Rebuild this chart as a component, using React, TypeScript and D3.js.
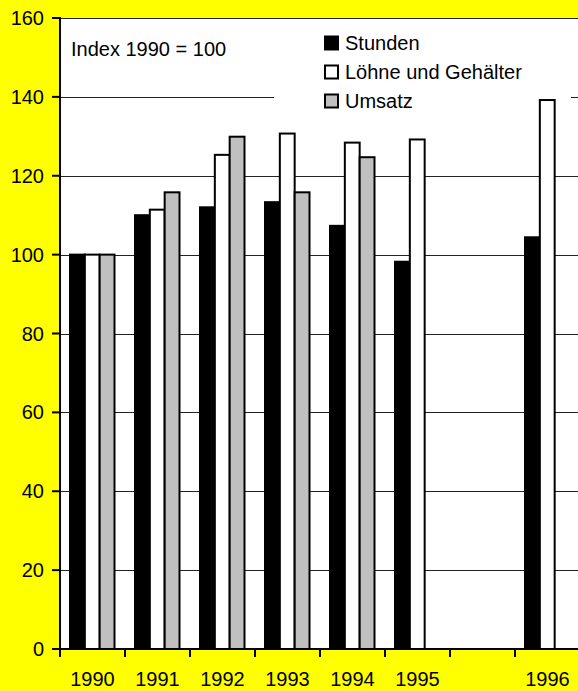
import React from "react";
import * as d3 from "d3";

const categories = ["1990", "1991", "1992", "1993", "1994", "1995", "gap", "1996"];
const categoryLabels = ["1990", "1991", "1992", "1993", "1994", "1995", "", "1996"];
const seriesNames = ["Stunden", "Löhne und Gehälter", "Umsatz"];
const stunden = [100, 110, 112, 113.3, 107.3, 98.2, null, 104.4];
const loehne = [100, 111.4, 125.3, 130.7, 128.4, 129.2, null, 139.2];
const umsatz = [100, 115.8, 129.9, 115.8, 124.7, null, null, null];
const yTicks = [0, 20, 40, 60, 80, 100, 120, 140, 160];

const W = 578;
const H = 691;
const FONT = "'Liberation Sans', Arial, sans-serif";
const fills = ["#000000", "#ffffff", "#c0c0c0"];

export default function App() {
  const seriesValues = [stunden, loehne, umsatz];
  const x = d3.scaleBand<string>().domain(categories).range([60, 580]).paddingInner(0).paddingOuter(0);
  const xInner = d3.scaleBand<string>().domain(seriesNames).range([10, 54.5]).padding(0);
  const y = d3.scaleLinear().domain([0, 160]).range([649, 18]);

  const bars: { key: string; x: number; y: number; w: number; h: number; fill: string }[] = [];
  seriesValues.forEach((vals, si) => {
    vals.forEach((v, ci) => {
      if (v == null) return;
      const cat = categories[ci];
      const bx = (x(cat) as number) + (xInner(seriesNames[si]) as number);
      bars.push({
        key: `${si}-${ci}`,
        x: bx,
        y: y(v),
        w: xInner.bandwidth(),
        h: y(0) - y(v),
        fill: fills[si],
      });
    });
  });

  const boundaries = categories.map((c) => x(c) as number);

  return (
    <svg
      width={W}
      height={H}
      style={{ position: "fixed", left: 0, top: 0, display: "block" }}
      fontFamily={FONT}
    >
      <rect x={0} y={0} width={W} height={H} fill="#ffff00" />
      <rect x={60} y={18} width={W - 60} height={649 - 18} fill="#ffffff" />

      {/* gridlines */}
      {yTicks.filter((t) => t > 0).map((t) => (
        <line key={t} x1={60} x2={W} y1={Math.round(y(t)) + 0.5} y2={Math.round(y(t)) + 0.5} stroke="#222" strokeWidth={1} />
      ))}

      {/* legend background */}
      <rect x={274} y={19} width={297} height={80} fill="#ffffff" />

      <text x={71} y={56} fontSize={20} fill="#000">Index 1990 = 100</text>

      {/* bars */}
      {bars.map((b) => (
        <rect key={b.key} x={b.x} y={b.y} width={b.w} height={b.h} fill={b.fill} stroke="#000" strokeWidth={2} />
      ))}

      {/* legend */}
      {seriesNames.map((name, i) => {
        const base = 50 + i * 29;
        return (
          <g key={name}>
            <rect x={325} y={base - 13.5} width={13} height={13} fill={fills[i]} stroke="#000" strokeWidth={2} />
            <text x={345} y={base} fontSize={20} fill="#000">{name}</text>
          </g>
        );
      })}

      {/* y axis */}
      <line x1={60} x2={60} y1={17} y2={657} stroke="#000" strokeWidth={2} />
      {yTicks.map((t) => (
        <g key={t}>
          <line x1={52} x2={60} y1={y(t)} y2={y(t)} stroke="#000" strokeWidth={2} />
          <text x={44} y={y(t)} dy="0.35em" textAnchor="end" fontSize={20} fill="#000">{t}</text>
        </g>
      ))}

      {/* x axis */}
      <line x1={59} x2={W} y1={649} y2={649} stroke="#000" strokeWidth={2} />
      {boundaries.map((bx, i) => (
        <line key={i} x1={bx} x2={bx} y1={649} y2={657} stroke="#000" strokeWidth={2} />
      ))}
      {categories.map((c, i) => (
        <text
          key={c}
          x={(x(c) as number) + x.bandwidth() / 2}
          y={686}
          textAnchor="middle"
          fontSize={20}
          fill="#000"
        >
          {categoryLabels[i]}
        </text>
      ))}
    </svg>
  );
}
